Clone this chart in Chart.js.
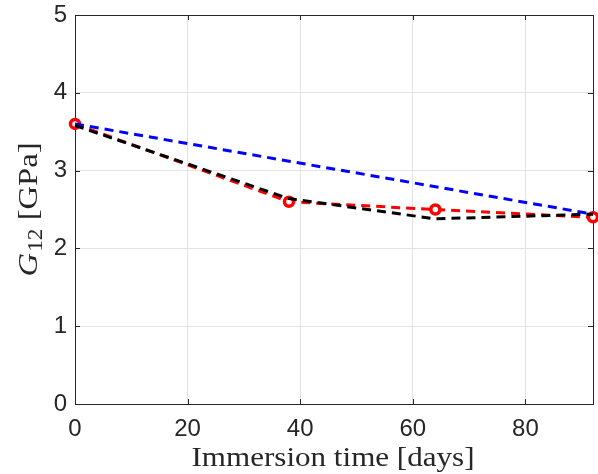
<!DOCTYPE html>
<html>
<head>
<meta charset="utf-8">
<script src="https://cdn.jsdelivr.net/npm/chart.js@4/dist/chart.umd.min.js"></script>
<style>
  html, body { margin: 0; padding: 0; background: #fff; }
  #wrap { width: 598px; height: 474px; }
</style>
</head>
<body>
<div id="wrap"><canvas id="chart" width="598" height="474"></canvas></div>
<script>
// data
const days = [0, 38, 64, 92];
const measured = [3.6, 2.6, 2.5, 2.4];
const modelBlack = [3.58, 2.64, 2.38, 2.44];
const linearDays = [0, 92];
const linearFit = [3.6, 2.44];
const xTicks = [0, 20, 40, 60, 80];
const yTicks = [0, 1, 2, 3, 4, 5];

const axisColor = "#262626";
const tickFont = { family: "'Liberation Sans', Arial, sans-serif", size: 24 };

function pts(xs, ys) {
    return xs.map((x, i) => ({ x: x, y: ys[i] }));
}

// box round the axes and inward ticks, like matlab
const boxPlugin = {
    id: "box",
    beforeDatasetsDraw(chart) {
        const ctx = chart.ctx;
        const a = chart.chartArea;
        const sx = chart.scales.x, sy = chart.scales.y;
        const tl = 5;
        ctx.save();
        ctx.strokeStyle = axisColor;
        ctx.lineWidth = 1;
        ctx.beginPath();
        xTicks.forEach(v => {
            const px = Math.round(sx.getPixelForValue(v)) + 0.5;
            ctx.moveTo(px, a.bottom); ctx.lineTo(px, a.bottom - tl);
            ctx.moveTo(px, a.top); ctx.lineTo(px, a.top + tl);
        });
        yTicks.forEach(v => {
            const py = Math.round(sy.getPixelForValue(v)) + 0.5;
            ctx.moveTo(a.left, py); ctx.lineTo(a.left + tl, py);
            ctx.moveTo(a.right, py); ctx.lineTo(a.right - tl, py);
        });
        ctx.stroke();
        ctx.strokeRect(Math.round(a.left) + 0.5, Math.round(a.top) + 0.5,
            Math.round(a.right - a.left), Math.round(a.bottom - a.top));
        ctx.restore();
    },
    afterDraw(chart) {
        const ctx = chart.ctx;
        const a = chart.chartArea;
        const serif = "'Liberation Serif', 'Times New Roman', serif";
        ctx.save();
        ctx.fillStyle = axisColor;

        // x axis title, stretched a bit to match the latex font width
        const xt = "Immersion time [days]";
        ctx.font = "28px " + serif;
        const kx = 283 / ctx.measureText(xt).width;
        ctx.save();
        ctx.translate((a.left + a.right) / 2 - 1, 466);
        ctx.scale(kx, 1);
        ctx.textAlign = "center";
        ctx.textBaseline = "alphabetic";
        ctx.fillText(xt, 0, 0);
        ctx.restore();

        // y axis title: G_12 [GPa]
        const fG = "italic 28px " + serif;
        const fSub = "20px " + serif;
        const fRest = "28px " + serif;
        ctx.font = fG; const wG = ctx.measureText("G").width + 1;
        ctx.font = fSub; const wS = ctx.measureText("12").width;
        ctx.font = fRest; const wR = ctx.measureText(" [GPa]").width;
        const total = wG + wS + wR;
        const ky = 134 / total;
        ctx.translate(37, (a.top + a.bottom) / 2);
        ctx.rotate(-Math.PI / 2);
        ctx.scale(ky, 1);
        ctx.textAlign = "left";
        let x0 = -total / 2;
        ctx.font = fG; ctx.fillText("G", x0, 0); x0 += wG;
        ctx.font = fSub; ctx.fillText("12", x0, 5); x0 += wS;
        ctx.font = fRest; ctx.fillText(" [GPa]", x0, 0);
        ctx.restore();
    }
};

// keep the plot box where the figure has it
function noScalePad(s) {
    s.paddingLeft = 0;
    s.paddingRight = 0;
}

const ctx = document.getElementById("chart").getContext("2d");
new Chart(ctx, {
    type: "line",
    data: {
        datasets: [
            {
                label: "measured",
                data: pts(days, measured),
                borderColor: "#ff0000",
                borderWidth: 3,
                borderDash: [9, 6],
                pointRadius: 4.5,
                pointBorderWidth: 3.5,
                pointBorderColor: "#ff0000",
                pointBackgroundColor: "#ffffff",
                clip: false,
                order: 3
            },
            {
                label: "linear",
                data: pts(linearDays, linearFit),
                borderColor: "#0000ff",
                borderWidth: 3,
                borderDash: [9, 6],
                pointRadius: 0,
                clip: false,
                order: 2
            },
            {
                label: "model",
                data: pts(days, modelBlack),
                borderColor: "#000000",
                borderWidth: 3,
                borderDash: [9, 6],
                pointRadius: 0,
                clip: false,
                order: 1
            }
        ]
    },
    options: {
        responsive: false,
        animation: false,
        layout: { autoPadding: false, padding: { top: 15, right: 5, bottom: 0, left: 0 } },
        plugins: {
            legend: { display: false },
            tooltip: { enabled: false }
        },
        elements: { line: { tension: 0 } },
        scales: {
            x: {
                type: "linear",
                min: 0,
                max: 92,
                afterBuildTicks: s => { s.ticks = xTicks.map(v => ({ value: v })); },
                afterFit: s => { s.height = 70; noScalePad(s); },
                ticks: { font: tickFont, color: axisColor, padding: 11, maxRotation: 0 },
                grid: { color: "#e3e3e3", drawTicks: false },
                border: { display: false }
            },
            y: {
                min: 0,
                max: 5,
                afterBuildTicks: s => { s.ticks = yTicks.map(v => ({ value: v })); },
                afterFit: s => { s.width = 75; noScalePad(s); },
                ticks: { font: Object.assign({ lineHeight: 0.5 }, tickFont), color: axisColor, padding: 8 },
                grid: { color: "#e3e3e3", drawTicks: false },
                border: { display: false }
            }
        }
    },
    plugins: [boxPlugin]
});
</script>
</body>
</html>
